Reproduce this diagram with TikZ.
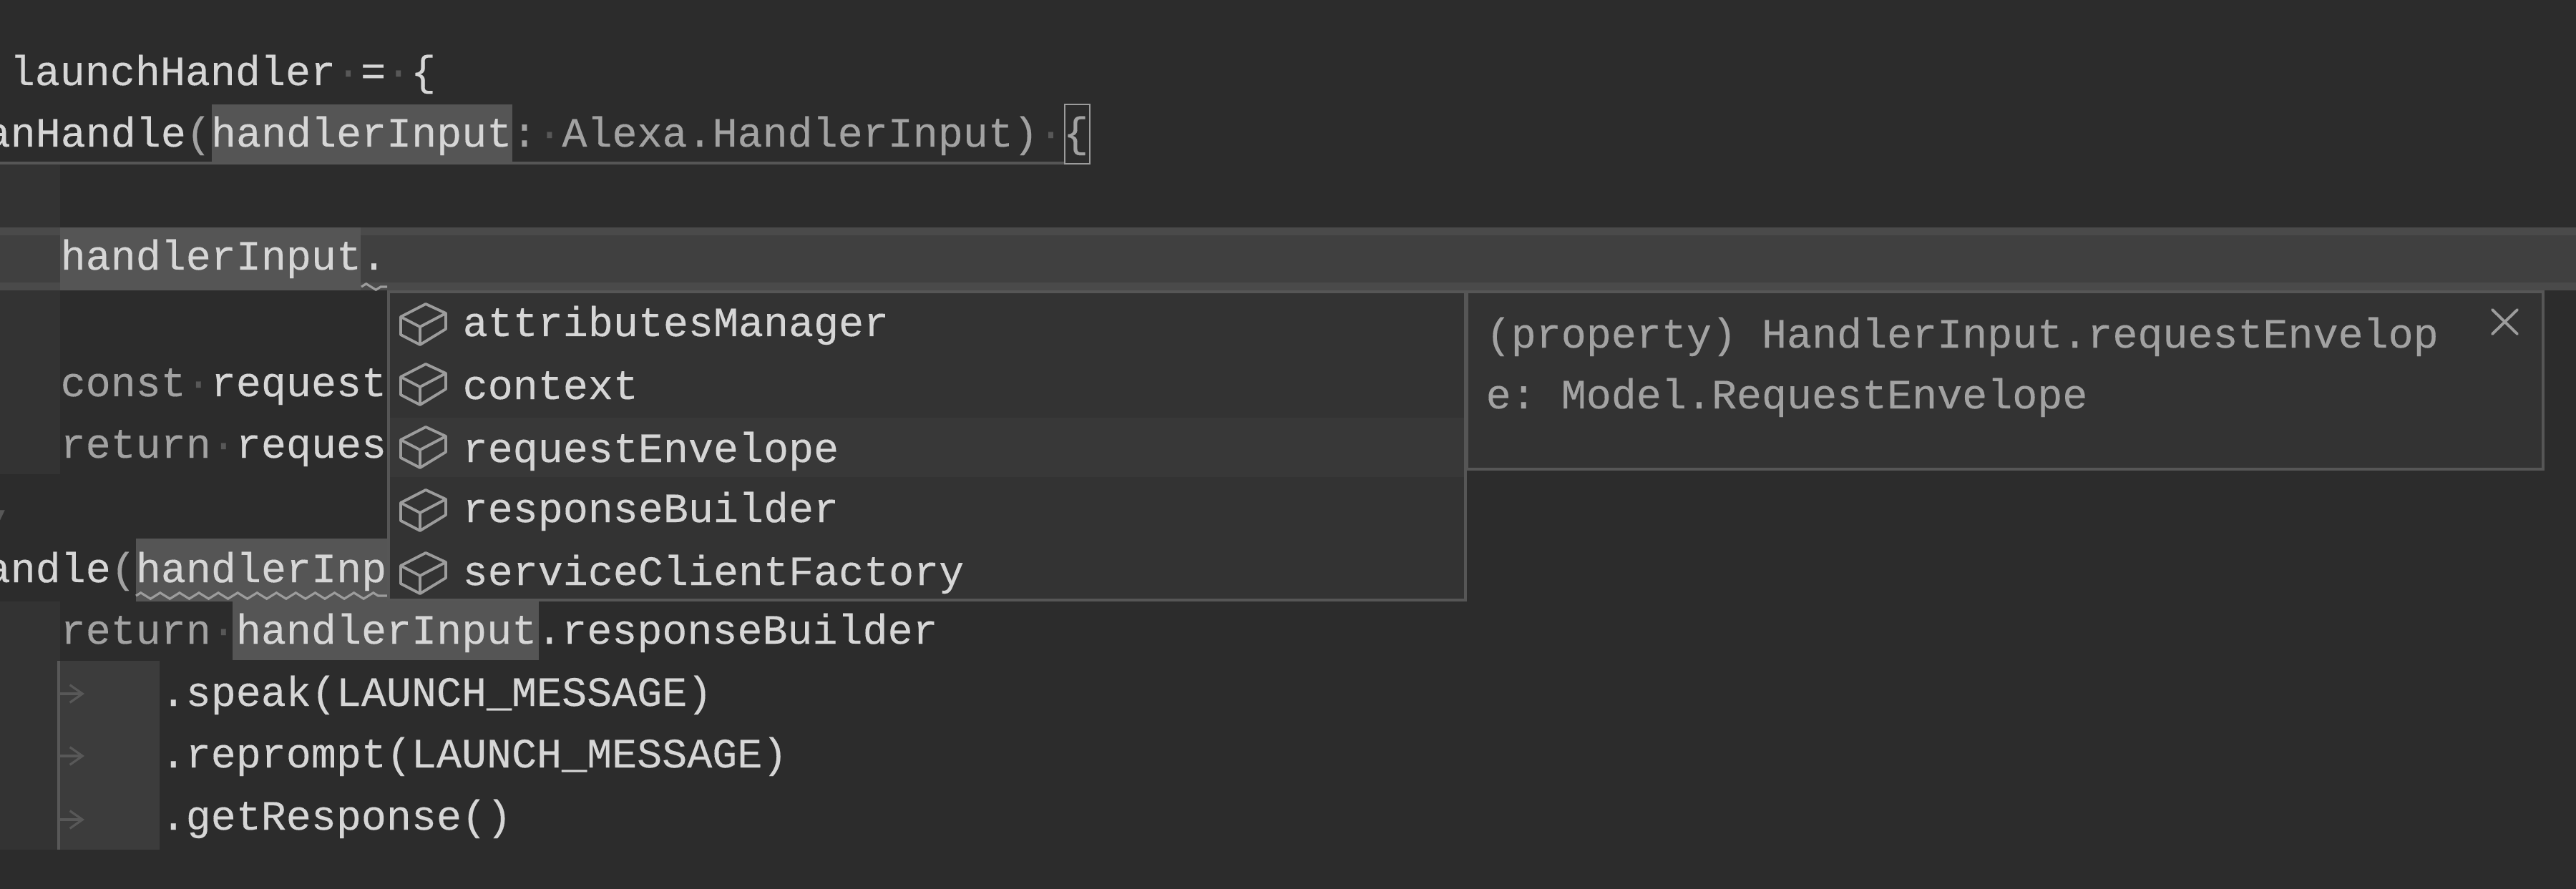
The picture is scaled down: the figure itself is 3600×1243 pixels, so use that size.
\documentclass[tikz,border=0pt]{standalone}
\usepackage{fontspec}
\usetikzlibrary{arrows.meta, decorations.pathmorphing}
\newfontfamily\codefont[FakeBold=0.25]{Liberation Mono}
\definecolor{editorbg}{HTML}{2C2C2C}
\definecolor{guidebg}{HTML}{333333}
\definecolor{tabbg}{HTML}{3C3C3C}
\definecolor{linebg}{HTML}{404040}
\definecolor{lineedge}{HTML}{4A4A4A}
\definecolor{wordbg}{HTML}{555555}
\definecolor{popupbg}{HTML}{333333}
\definecolor{popupsel}{HTML}{383838}
\definecolor{popupedge}{HTML}{565656}
\definecolor{codefg}{HTML}{D6D6D6}
\definecolor{dimfg}{HTML}{A2A2A2}
\definecolor{docfg}{HTML}{A2A2A2}
\definecolor{iconfg}{HTML}{9C9C9C}
\definecolor{wsfg}{HTML}{585858}
\newcommand{\wsdot}{\textcolor{wsfg}{·}}
\newcommand{\dimtxt}[1]{\textcolor{dimfg}{#1}}

\begin{document}
\begin{tikzpicture}[
    x=0.01cm, y=-0.01cm,
    code/.style={anchor=base west, inner sep=0pt, text=codefg,
                 font=\codefont\frenchspacing\fontsize{16.6pt}{20pt}\selectfont},
    doctext/.style={code, text=docfg},
    wordmark/.style={fill=wordbg},
    popupframe/.style={draw=popupedge, line width=1.1pt, fill=popupbg},
    squiggle/.style={draw=iconfg, line width=0.9pt, decorate,
                     decoration={zigzag, segment length=7.7pt, amplitude=1.2pt}},
    tabmark/.style={draw=wsfg, line width=0.9pt, -{Straight Barb[length=5pt, width=7pt]}},
    cubeicon/.pic={
      \draw[draw=iconfg, line width=1.1pt, line join=round]
        (4,-28) -- (32,-15) -- (32,7) -- (-4,29) -- (-31,15) -- (-31,-10) -- cycle
        (-31,-10) -- (-4,4) -- (32,-15) (-4,4) -- (-4,29);
    }
  ]
  \useasboundingbox (0,0) rectangle (3600,1243);
  \clip (0,0) rectangle (3600,1243);
  \fill[editorbg] (0,0) rectangle (3600,1243);

  \fill[guidebg] (0,230) rectangle (84,663);
  \fill[guidebg] (0,841) rectangle (84,1188);
  \fill[tabbg] (80,924) rectangle (223,1188);
  \draw[draw=wsfg, line width=1pt] (82,924) -- (82,1188);

  \fill[linebg] (0,318) rectangle (3600,406);
  \fill[lineedge] (0,318) rectangle (3600,329);
  \fill[lineedge] (0,395) rectangle (3600,406);

  \fill[wordmark] (296,146) rectangle (716,230);
  \fill[wordmark] (84,318) rectangle (504,406);
  \fill[wordmark] (190,753) rectangle (541,841);
  \fill[wordmark] (325,840) rectangle (753,923);
  \draw[draw=popupedge, line width=1.1pt] (0,228) -- (1488,228);
  \draw[draw=iconfg, line width=0.8pt] (1488,146) rectangle (1523,229);

  \node[code] (launch) at (-22,119) {\wsdot launchHandler\wsdot =\wsdot \{};
  \node[code] (canhandle) at (-21,205)
    {anHandle\dimtxt{(}handlerInput\dimtxt{:}\wsdot \dimtxt{Alexa.HandlerInput)}\wsdot \dimtxt{\{}};
  \node[code] (inputdot) at (84,377) {handlerInput.};
  \node[code] (constreq) at (84,554) {\dimtxt{const}\wsdot request};
  \node[code] (returnreq) at (84,640) {\dimtxt{return}\wsdot reques};
  \node[code, text=wsfg] (comma) at (-14,722) {,};
  \node[code] (handle) at (-21,814) {andle\dimtxt{(}handlerInp};
  \node[code] (returninput) at (84,900) {\dimtxt{return}\wsdot handlerInput.responseBuilder};
  \node[code] (speak) at (224,987) {.speak(LAUNCH\_MESSAGE)};
  \node[code] (reprompt) at (224,1073) {.reprompt(LAUNCH\_MESSAGE)};
  \node[code] (getresp) at (224,1160) {.getResponse()};

  \draw[tabmark] (84,970) -- (118,970);
  \draw[tabmark] (84,1057) -- (118,1057);
  \draw[tabmark] (84,1146) -- (118,1146);

  \draw[squiggle] (505,401) -- (541,401);
  \draw[squiggle] (190,833) -- (541,833);

  \draw[popupframe] (543,408) rectangle (2048,839);
  \fill[popupsel] (545,584) rectangle (2046,667);
  \draw[popupframe] (2050,408) rectangle (3554,656);

  \pic at (591,453) {cubeicon};
  \pic at (591,537) {cubeicon};
  \pic at (591,625) {cubeicon};
  \pic at (591,713) {cubeicon};
  \pic at (591,801) {cubeicon};

  \node[code] (attributes) at (646,470) {attributesManager};
  \node[code] (context) at (646,558) {context};
  \node[code] (envelope) at (646,646) {requestEnvelope};
  \node[code] (builder) at (646,730) {responseBuilder};
  \node[code] (factory) at (646,818) {serviceClientFactory};

  \node[doctext] (docfirst) at (2076,486) {(property) HandlerInput.requestEnvelop};
  \node[doctext] (docsecond) at (2076,571) {e: Model.RequestEnvelope};

  \coordinate (closenw) at (3483,433);
  \coordinate (closese) at (3518,467);
  \coordinate (closene) at (3518,433);
  \coordinate (closesw) at (3483,467);
  \draw[draw=iconfg, line width=1.1pt, line cap=round] (closenw) -- (closese) (closene) -- (closesw);
\end{tikzpicture}
\end{document}
